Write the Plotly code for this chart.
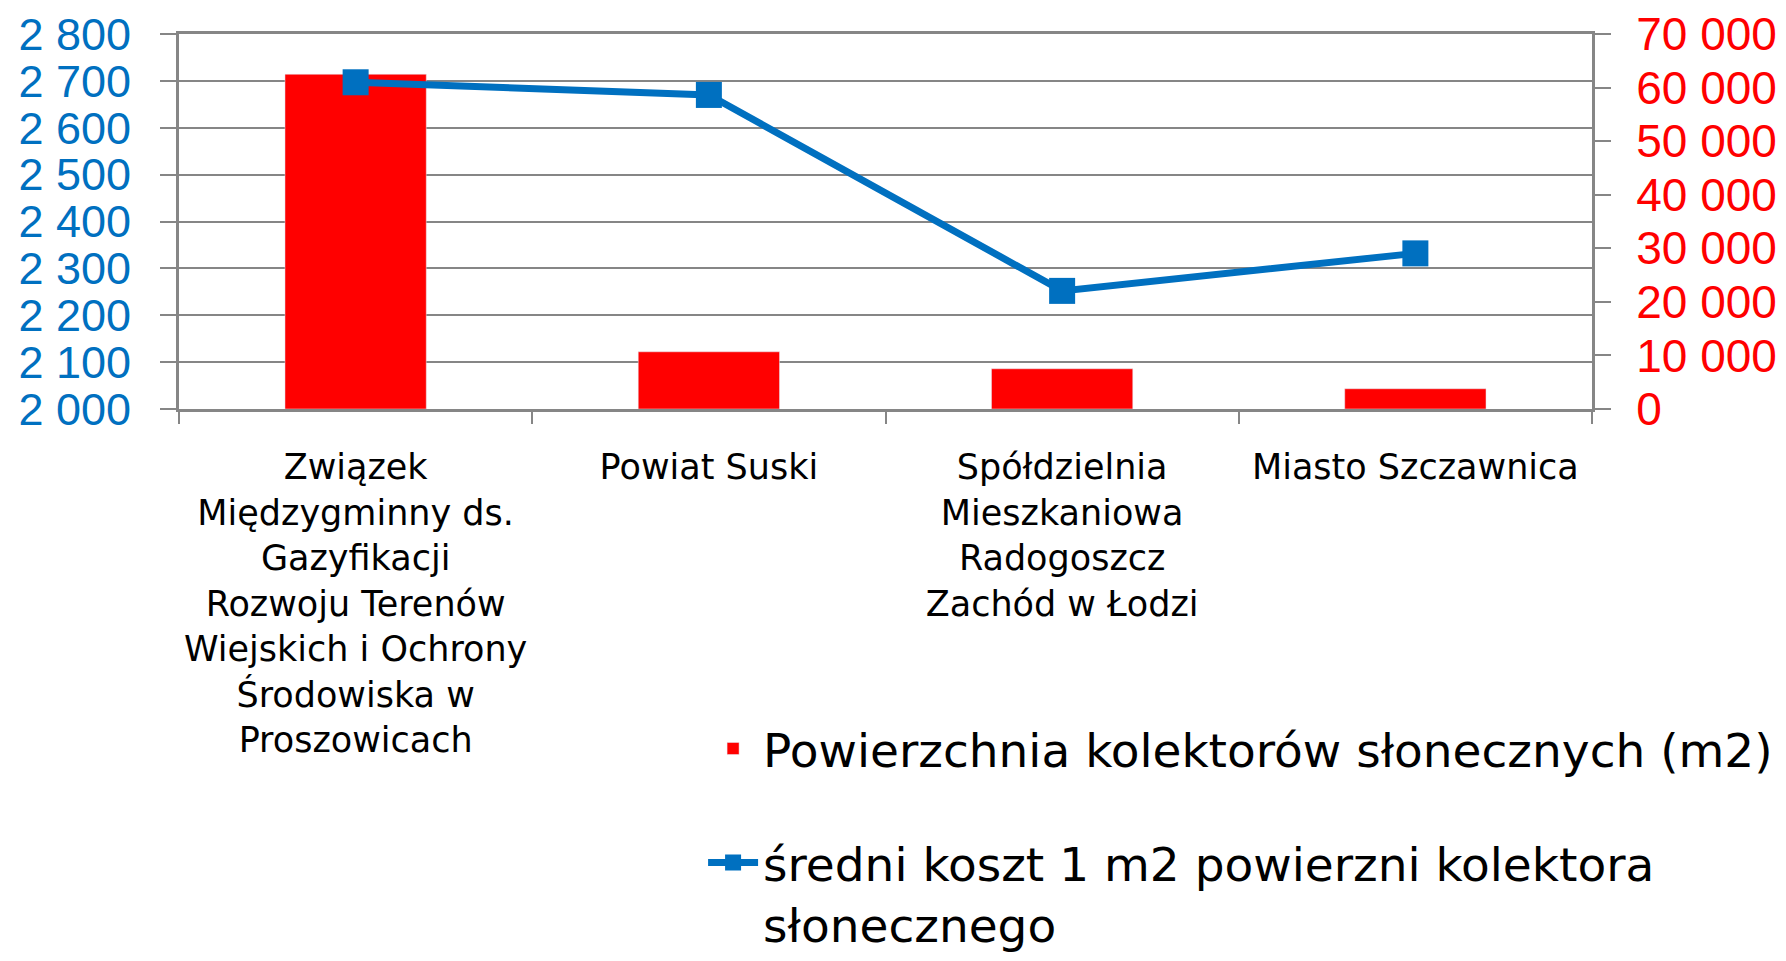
import plotly.graph_objects as go

categories = [
    "Związek<br>Międzygminny ds.<br>Gazyfikacji<br>Rozwoju Terenów<br>Wiejskich i Ochrony<br>Środowiska w<br>Proszowicach",
    "Powiat Suski",
    "Spółdzielnia<br>Mieszkaniowa<br>Radogoszcz<br>Zachód w Łodzi",
    "Miasto Szczawnica",
]
area_m2 = [62490, 10680, 7510, 3780]
cost_per_m2 = [2697, 2670, 2252, 2332]

bar_name = "Powierzchnia kolektorów słonecznych (m2)"
line_name = "średni koszt 1 m2 powierzni kolektora<br>słonecznego"

RED = "#FF0000"
BLUE = "#0070C0"
GREY = "#868686"

fig = go.Figure()
fig.add_trace(go.Bar(
    x=categories, y=area_m2, name=bar_name, marker_color=RED,
    yaxis="y", legendgroup="a",
))
fig.add_trace(go.Scatter(
    x=categories, y=cost_per_m2, name=line_name, mode="lines+markers",
    line=dict(color=BLUE, width=7),
    marker=dict(symbol="square", size=26, color=BLUE),
    yaxis="y2", legendgroup="b",
))

fig.update_layout(
    width=1770, height=945,
    margin=dict(l=171, r=186, t=26, b=544, autoexpand=False),
    paper_bgcolor="white", plot_bgcolor="white",
    separators=", ",
    bargap=0.6,
    showlegend=True,
    legend=dict(
        xref="container", yref="container", x=0.3927, y=0.2556,
        xanchor="left", yanchor="top",
        font=dict(family="DejaVu Sans", size=47, color="black"),
        traceorder="grouped", tracegroupgap=50, valign="top",
        itemwidth=50, bgcolor="rgba(0,0,0,0)",
    ),
    xaxis=dict(
        type="category", showline=True, linecolor=GREY, linewidth=3, mirror=True,
        ticks="outside", tickson="boundaries", ticklen=12, tickcolor=GREY, tickwidth=2,
        tickfont=dict(family="DejaVu Sans", size=35, color="black"),
        ticklabelstandoff=25,
        automargin=False, showgrid=False, tickangle=0,
    ),
    yaxis=dict(
        side="right", range=[0, 70000], dtick=10000, tickformat=",d",
        showgrid=False, showline=True, linecolor=GREY, linewidth=3,
        ticks="outside", ticklen=16, tickcolor=GREY, tickwidth=2,
        tickfont=dict(family="Liberation Sans", size=46, color=RED),
        ticklabelstandoff=16, ticklabeloverflow="allow",
        automargin=False, zeroline=False,
    ),
    yaxis2=dict(
        side="left", overlaying="y", range=[2000, 2800], dtick=100, tickformat=",d",
        showgrid=True, gridcolor=GREY, gridwidth=2,
        showline=True, linecolor=GREY, linewidth=3,
        ticks="outside", ticklen=16, tickcolor=GREY, tickwidth=2,
        tickfont=dict(family="Liberation Sans", size=45, color=BLUE),
        ticklabelstandoff=20, ticklabeloverflow="allow",
        automargin=False, zeroline=False,
    ),
)

fig.write_html("out.html")
